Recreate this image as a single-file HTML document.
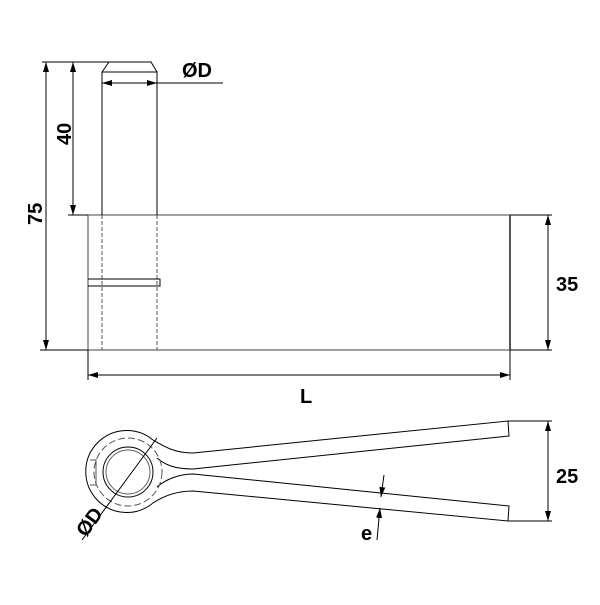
<!DOCTYPE html>
<html><head><style>body{margin:0;background:#fff}</style></head><body>
<svg width="600" height="600" viewBox="0 0 600 600" xmlns="http://www.w3.org/2000/svg" font-family="Liberation Sans, sans-serif" font-weight="bold">
<defs><marker id="a" markerWidth="10" markerHeight="6" refX="10" refY="3" orient="auto-start-reverse" markerUnits="userSpaceOnUse"><path d="M0,0 L10,3 L0,6z" fill="#000"/></marker></defs>
<g stroke="#000" stroke-width="1" fill="none">
<rect x="88" y="215" width="422" height="135" stroke="#444"/>
<line x1="510" y1="215" x2="510" y2="350" stroke-width="2" stroke="#555"/>
<path d="M102,215 V72 L109,62 H151 L157,72 V215"/>
<line x1="102" y1="72" x2="157" y2="72"/>
<g stroke-dasharray="4,2" stroke="#555"><line x1="102" y1="215" x2="102" y2="350"/><line x1="157" y1="215" x2="157" y2="350"/><line x1="95" y1="279" x2="158" y2="279"/><line x1="95" y1="286" x2="158" y2="286"/></g>
<path d="M88,279 H160 V286 H88"/>
<line x1="42" y1="62" x2="109" y2="62"/>
<line x1="68" y1="215" x2="88" y2="215"/>
<line x1="40" y1="350" x2="88" y2="350"/>
<line x1="46" y1="62" x2="46" y2="350" marker-start="url(#a)" marker-end="url(#a)"/>
<line x1="73" y1="62" x2="73" y2="215" marker-start="url(#a)" marker-end="url(#a)"/>
<line x1="102" y1="83" x2="157" y2="83" marker-start="url(#a)" marker-end="url(#a)"/>
<line x1="157" y1="83" x2="223" y2="83"/>
<line x1="510" y1="215" x2="552" y2="215"/>
<line x1="510" y1="350" x2="552" y2="350"/>
<line x1="548" y1="215" x2="548" y2="350" marker-start="url(#a)" marker-end="url(#a)"/>
<line x1="88" y1="350" x2="88" y2="380"/>
<line x1="510" y1="350" x2="510" y2="380"/>
<line x1="88" y1="375" x2="510" y2="375" marker-start="url(#a)" marker-end="url(#a)"/>
<!-- bottom view -->
<path d="M153,440 A41,41 0 1 0 153,503"/>
<path d="M157,458 C165,465 175,469 193,469 L509,436 L508,421 L193,453 C175,453 165,447 153,440"/>
<path d="M153,503 C165,495 178,491 193,491 L508,521 L509,506 L193,474 C178,474 165,480 157,487"/>
<circle cx="128" cy="472" r="25"/>
<circle cx="128" cy="472" r="22" stroke="#666"/>
<circle cx="128" cy="472" r="34" stroke-dasharray="7,3" stroke="#555"/>
<path d="M90,460 H96 V485 H90" stroke="#555"/>
<line x1="82" y1="540" x2="157" y2="438"/>
<line x1="508" y1="421" x2="552" y2="421"/>
<line x1="508" y1="521" x2="552" y2="521"/>
<line x1="548" y1="421" x2="548" y2="521" marker-start="url(#a)" marker-end="url(#a)"/>
<line x1="384" y1="475" x2="381" y2="497" marker-end="url(#a)"/>
<line x1="377" y1="540" x2="380" y2="508" marker-end="url(#a)"/>
</g>
<g font-size="20" fill="#000">
<text x="182" y="77">ØD</text>
<text x="300" y="403">L</text>
<text x="556" y="291">35</text>
<text x="556" y="483">25</text>
<text x="361" y="540">e</text>
<text transform="translate(71,145) rotate(-90)">40</text>
<text transform="translate(42,225) rotate(-90)">75</text>
<text transform="translate(86,538) rotate(-54)">ØD</text>
</g>
</svg>
</body></html>
